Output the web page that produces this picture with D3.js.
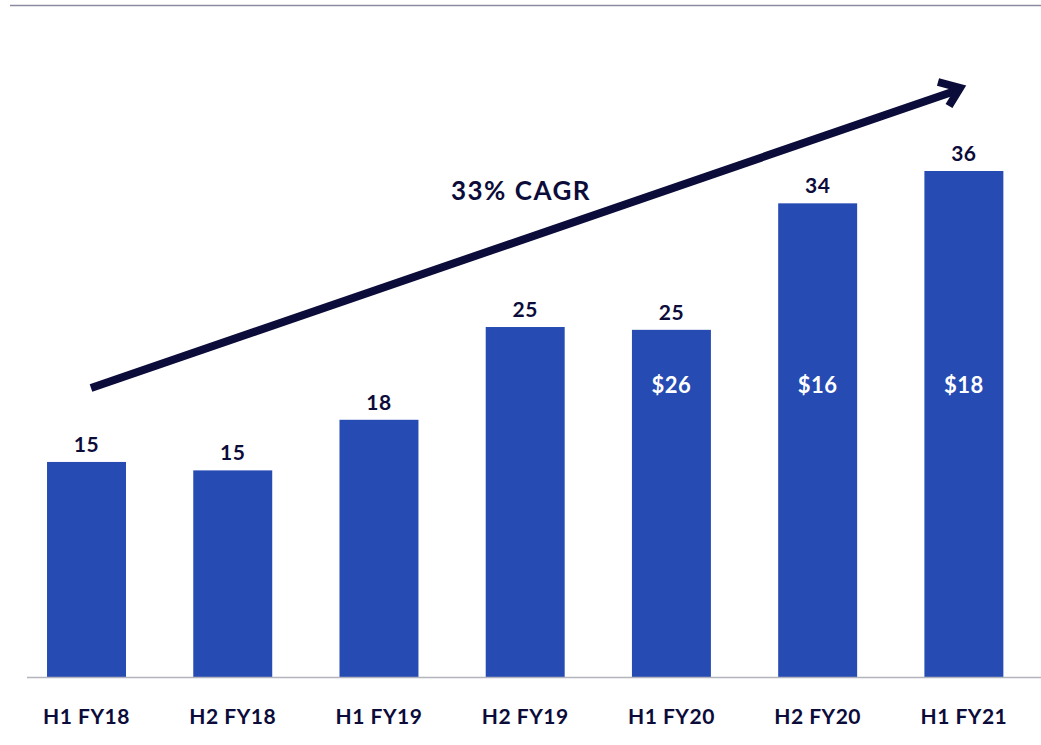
<!DOCTYPE html>
<html>
<head>
<meta charset="utf-8">
<script src="https://cdn.jsdelivr.net/npm/d3@7"></script>
<style>
  html, body { margin: 0; padding: 0; background: #fff; }
  svg { display: block; }
</style>
</head>
<body>
<div id="chart"></div>
<script>
const width = 1041;
const height = 745;

const periods = ['H1 FY18', 'H2 FY18', 'H1 FY19', 'H2 FY19', 'H1 FY20', 'H2 FY20', 'H1 FY21'];
const values = [15.3, 14.7, 18.3, 24.9, 24.7, 33.7, 36.0];
const innerLabels = [null, null, null, null, '$26', '$16', '$18'];
const cagrLabel = '33% CAGR';

const barColor = '#264bb3';
const inkColor = '#0c0c3a';
const font = "'Lato', 'Open Sans', sans-serif";

const svg = d3.select('#chart').append('svg')
  .attr('width', width)
  .attr('height', height);

const x = d3.scaleBand()
  .domain(periods)
  .range([13.4, 1037])
  .paddingInner(0.46)
  .paddingOuter(0.23);

const y = d3.scaleLinear()
  .domain([0, 36])
  .range([677, 171]);

// top rule
svg.append('line')
  .attr('x1', 10).attr('x2', width)
  .attr('y1', 5.5).attr('y2', 5.5)
  .attr('stroke', '#8a8aa0')
  .attr('stroke-width', 1.5);

svg.append('g')
  .selectAll('rect')
  .data(values)
  .join('rect')
  .attr('x', (d, i) => x(periods[i]))
  .attr('y', (d) => y(d))
  .attr('width', x.bandwidth())
  .attr('height', (d) => y(0) - y(d))
  .attr('fill', barColor);

// baseline
svg.append('line')
  .attr('x1', 27).attr('x2', width)
  .attr('y1', y(0) + 0.5).attr('y2', y(0) + 0.5)
  .attr('stroke', '#b4b4bc')
  .attr('stroke-width', 1.5);

svg.append('g')
  .selectAll('text')
  .data(values)
  .join('text')
  .attr('x', (d, i) => x(periods[i]) + x.bandwidth() / 2)
  .attr('y', (d) => y(d) - 10)
  .attr('text-anchor', 'middle')
  .style('font', `bold 21px ${font}`)
  .style('letter-spacing', '0.5px')
  .attr('fill', inkColor)
  .text((d) => Math.round(d));

svg.append('g')
  .selectAll('text')
  .data(innerLabels)
  .join('text')
  .attr('x', (d, i) => x(periods[i]) + x.bandwidth() / 2)
  .attr('y', 393)
  .attr('text-anchor', 'middle')
  .style('font', `bold 22px ${font}`)
  .style('letter-spacing', '0.5px')
  .attr('fill', '#fff')
  .text((d) => d || '');

svg.append('g')
  .selectAll('text')
  .data(periods)
  .join('text')
  .attr('x', (d) => x(d) + x.bandwidth() / 2)
  .attr('y', 724)
  .attr('text-anchor', 'middle')
  .style('font', `bold 21px ${font}`)
  .style('letter-spacing', '0.5px')
  .attr('fill', inkColor)
  .text((d) => d);

// growth arrow
const arrow = svg.append('g')
  .attr('stroke', inkColor)
  .attr('fill', 'none')
  .attr('stroke-width', 8);

arrow.append('line')
  .attr('x1', 91).attr('y1', 388)
  .attr('x2', 955).attr('y2', 91);

arrow.append('path')
  .attr('d', 'M938,82 L960,88 L949,106')
  .attr('stroke-linejoin', 'miter')
  .attr('stroke-linecap', 'butt');

svg.append('text')
  .attr('x', 521)
  .attr('y', 200)
  .attr('text-anchor', 'middle')
  .style('font', `bold 26px ${font}`)
  .style('letter-spacing', '1.5px')
  .attr('fill', inkColor)
  .text(cagrLabel);
</script>
</body>
</html>
